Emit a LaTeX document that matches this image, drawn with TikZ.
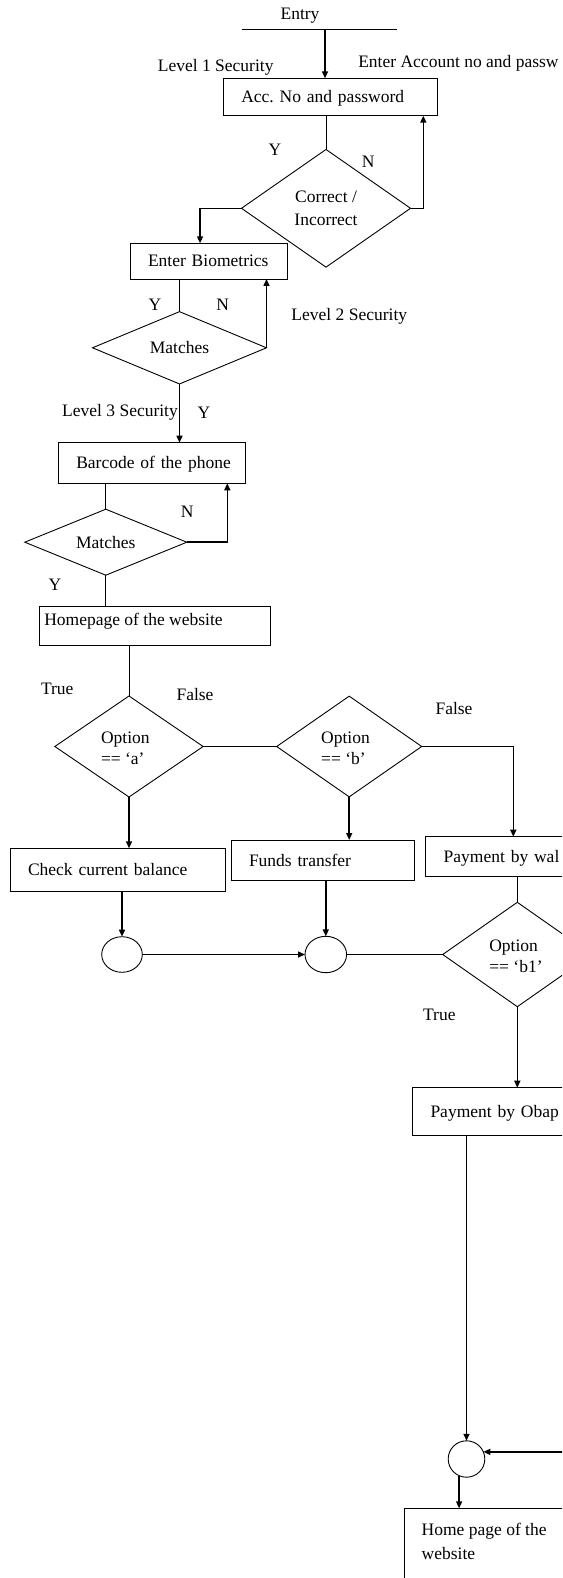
\documentclass[tikz,border=0pt]{standalone}
\usepackage{fontspec}
\setmainfont{Liberation Serif}
\usetikzlibrary{shapes.geometric,arrows.meta}

% left inset of the text inside the process boxes
\newcommand\ind{\hspace*{18pt}}
% two-line text of the option tests
\newcommand\optlines[1]{\begin{tabular}{@{}p{56pt}@{}}\rule{0pt}{21pt}Option\\#1\end{tabular}}

\begin{document}
\frenchspacing
\begin{tikzpicture}[x=1pt, y=-1pt, font=\fontsize{17.5}{21.5}\selectfont,
  every node/.style={outer sep=0pt},
  stepbox/.style={draw, line width=0.9pt, rectangle, anchor=north west, inner sep=0pt,
                  align=left, text height=11.5pt, text depth=0pt},
  plainbox/.style={draw, line width=0.9pt, rectangle, anchor=north west, inner sep=0pt},
  decision/.style={draw, diamond, line width=0.9pt, inner sep=0pt, aspect=1.5},
  joint/.style={draw, ellipse, line width=0.9pt, inner sep=0pt},
  lbl/.style={inner sep=0pt, text height=11.5pt, text depth=0pt},
  flow/.style={line width=1.5pt, -{Triangle[length=7pt,width=6pt]}},
  link/.style={line width=0.9pt}]

\useasboundingbox (0,0) rectangle (562,1578);
\fill[white] (0,0) rectangle (562,1578);
\clip (0,0) rectangle (562,1578);

% ---------- level 1: account number and password
\coordinate (entryL) at (241.7,29.3);
\coordinate (entryR) at (396.7,29.3);
\coordinate (entryIn) at (325,29.3);
\node[lbl] (entry) at (300,14) {Entry};
\node[lbl] (sec1) at (215.7,66) {Level 1 Security};
\node[lbl, anchor=west] (hint) at (358.3,62) {Enter Account no and passw};
\node[stepbox, text width=214pt, minimum height=37.4pt] (acc) at (223.3,78.3) {\ind Acc. No and password};
\node[decision, minimum width=169pt, minimum height=117.7pt] (d1) at (326,208.3)
  {\begin{tabular}{@{}c@{}}\rule{0pt}{18pt}Correct /\\[1.8pt]Incorrect\end{tabular}};
\node[lbl] (y1) at (275,150) {Y};
\node[lbl] (n1) at (368.3,161.7) {N};

% ---------- level 2: biometrics
\node[stepbox, text width=157.3pt, minimum height=35.7pt] (bio) at (130,243.3) {\ind Enter Biometrics};
\node[decision, minimum width=174pt, minimum height=72.3pt] (d2) at (179.5,347.8) {Matches};
\node[lbl] (y2) at (155,305) {Y};
\node[lbl] (n2) at (222.7,305) {N};
\node[lbl] (sec2) at (349.3,314.5) {Level 2 Security};
\node[lbl] (sec3) at (120,411) {Level 3 Security};
\node[lbl] (y3) at (204,412.7) {Y};

% ---------- level 3: phone barcode
\node[stepbox, text width=187.4pt, minimum height=40.6pt] (bar) at (58.3,442.7) {\ind Barcode of the phone};
\node[decision, minimum width=162pt, minimum height=66pt] (d3) at (105.8,542.2) {Matches\hspace{7pt}};
\node[lbl] (n3) at (187.3,511.7) {N};
\node[lbl] (y4) at (55,585) {Y};

% ---------- home page and menu options
\node[plainbox, minimum width=231.7pt, minimum height=38.3pt] (home1) at (39,606.7) {};
\node[lbl, anchor=west] (home1txt) at (44.3,619.3) {Homepage of the website};

\node[decision, minimum width=148.3pt, minimum height=101pt] (da) at (129,746.5) {\optlines{== ‘a’}};
\node[decision, minimum width=145pt, minimum height=100.7pt] (db) at (349.2,746.5) {\optlines{== ‘b’}};
\node[lbl] (t1) at (57.3,689) {True};
\node[lbl] (f1) at (195,695) {False};
\node[lbl] (f2) at (454,708.3) {False};

\node[stepbox, text width=215pt, minimum height=43.4pt] (chk) at (10,848.3) {\ind Check current balance};
\node[stepbox, text width=183pt, minimum height=40.7pt] (fund) at (231,840) {\ind Funds transfer};
\node[stepbox, text width=200pt, minimum height=40pt] (wal) at (425.7,836.7) {\ind Payment by wal};

\node[joint, minimum width=40.6pt, minimum height=35.6pt] (c1) at (122,954.5) {};
\node[joint, minimum width=41.6pt, minimum height=36.4pt] (c2) at (325.8,954.5) {};
\node[decision, minimum width=149.2pt, minimum height=104.4pt] (db1) at (517.3,954.5) {\optlines{== ‘b1’}};
\node[lbl] (t2) at (439.3,1015) {True};

\node[stepbox, text width=200pt, minimum height=47.3pt] (obap) at (412.5,1087.7) {\ind Payment by Obap};
\node[joint, minimum width=36.6pt, minimum height=36.4pt] (c3) at (466.5,1459) {};
\coordinate (edgeIn) at (585,1451.7);
\node[plainbox, minimum width=200pt, minimum height=120pt] (home2) at (404.3,1508.3) {};
\node[lbl, anchor=west] (home2a) at (421.7,1530) {Home page of the};
\node[lbl, anchor=west] (home2b) at (421.7,1553.3) {website};

% ---------- connectors
\draw[link] (entryL) -- (entryR);
\draw[flow] (entryIn) -- (entryIn |- acc.north);
\draw[link] (d1.north |- acc.south) -- (d1.north);
\draw[flow] (d1.east) -| ([xshift=-14pt]acc.south east);
\draw[flow] (d1.west) -| ([xshift=-8.6pt]bio.north);
\draw[link] (d2.north |- bio.south) -- (d2.north);
\draw[flow] (d2.east) -- (d2.east |- bio.south);
\draw[flow] (d2.south) -- (d2.south |- bar.north);
\draw[link] (d3.north |- bar.south) -- (d3.north);
\draw[flow] (d3.east) -| ([xshift=-18.4pt]bar.south east);
\draw[link] (d3.south) -- (d3.south |- home1.north);
\draw[link] (da.north |- home1.south) -- (da.north);
\draw[link] (da.east) -- (db.west);
\draw[flow] (db.east) -| ([xshift=87.6pt]wal.north west);
\draw[flow] (da.south) -- (da.south |- chk.north);
\draw[flow] (db.south) -- (db.south |- fund.north);
\draw[flow] (c1.north |- chk.south) -- (c1.north);
\draw[flow] (c2.north |- fund.south) -- (c2.north);
\draw[flow] (c1.east) -- (c2.west);
\draw[link] (c2.east) -- (db1.west);
\draw[link] (db1.north |- wal.south) -- (db1.north);
\draw[flow] (db1.south) -- (db1.south |- obap.north);
\draw[flow] (c3.north |- obap.south) -- (c3.north);
\draw[flow] (edgeIn |- c3.23) -- (c3.23);
\draw[flow] (c3.-114) -- (c3.-114 |- home2.north);
\end{tikzpicture}
\end{document}
